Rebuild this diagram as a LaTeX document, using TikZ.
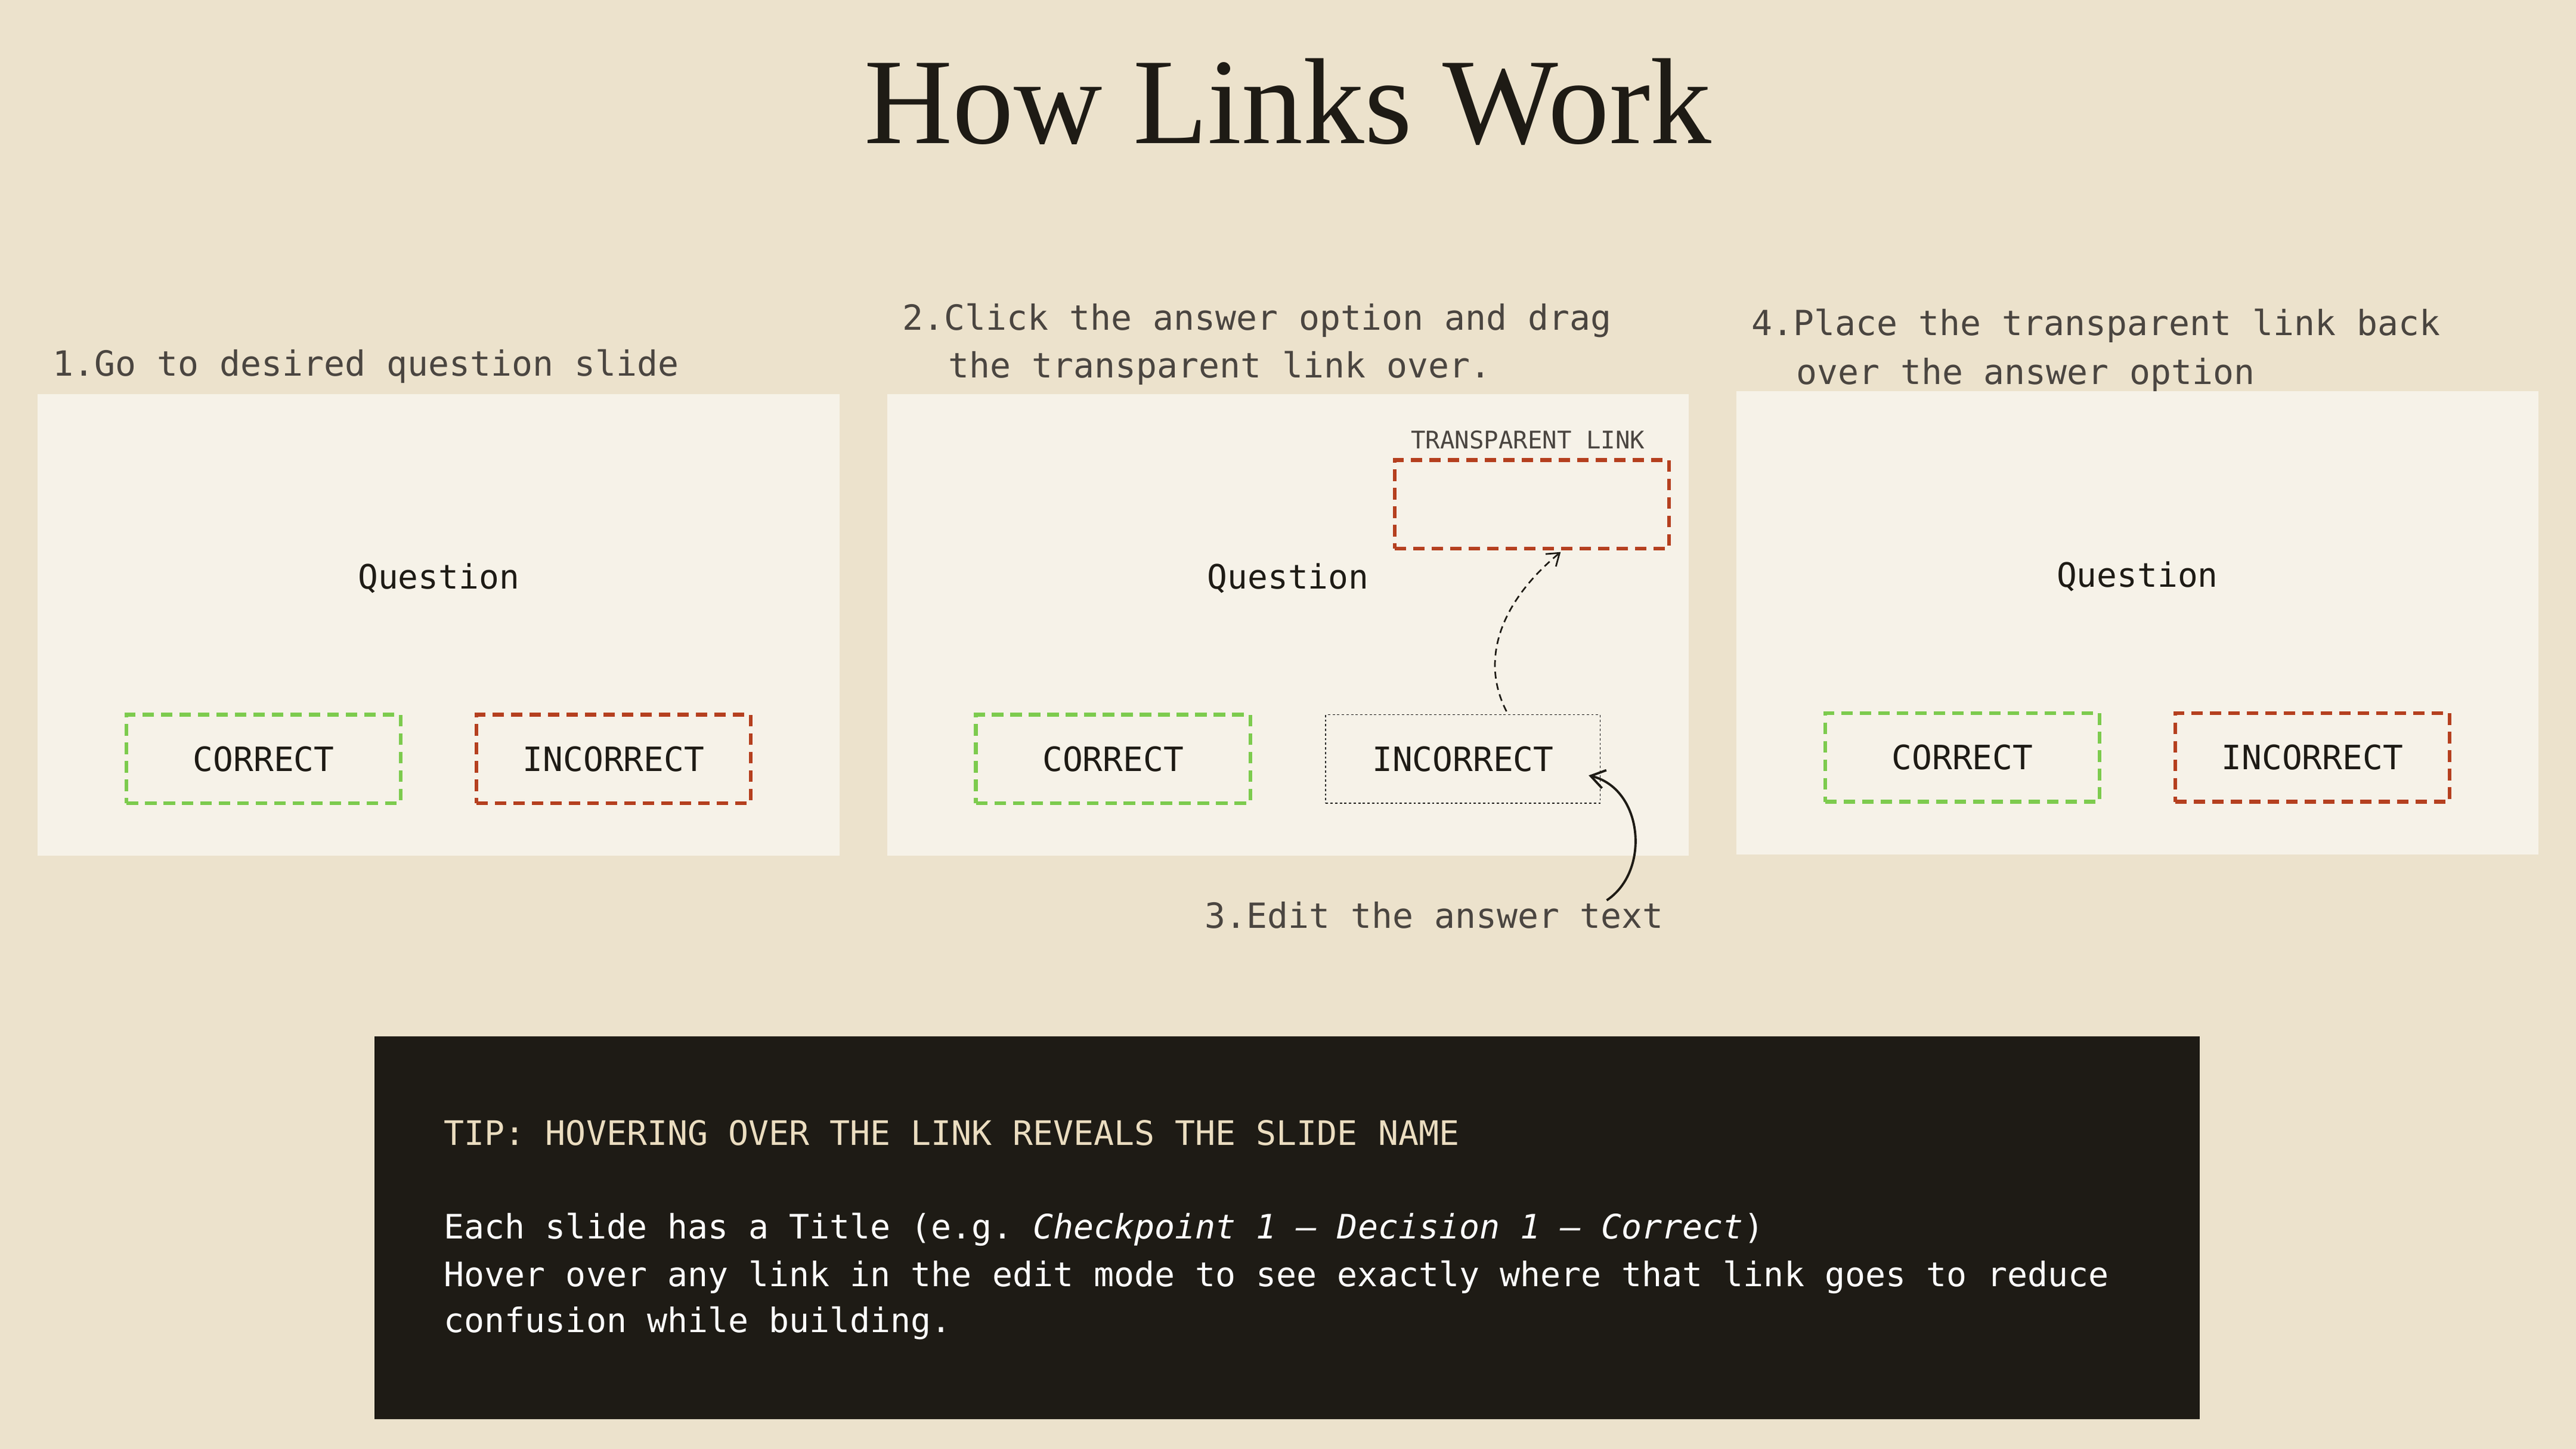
\documentclass[tikz,border=0pt]{standalone}
\usepackage{fontspec}
\setmainfont{Liberation Serif}
\setmonofont{DejaVu Sans Mono}
\usetikzlibrary{arrows.meta}
\definecolor{bg}{HTML}{ECE2CC}
\definecolor{panel}{HTML}{F6F2E8}
\definecolor{ink}{HTML}{1E1B15}
\definecolor{stepc}{HTML}{4A4540}
\definecolor{okc}{HTML}{7DCB4E}
\definecolor{badc}{HTML}{B5401F}
\definecolor{tipc}{HTML}{EBDDC0}
\tikzset{
  slide/.style={fill=panel,draw=none},
  steptext/.style={anchor=base west,text=stepc,font=\ttfamily\fontsize{15pt}{21pt}\selectfont,inner sep=0pt,align=left},
  qtext/.style={text=ink,font=\ttfamily\fontsize{14.5pt}{18pt}\selectfont},
  okbox/.style={draw=okc,line width=1.6pt,dash pattern=on 5pt off 3pt,minimum width=167*0.025cm,minimum height=54*0.025cm,text=ink,font=\ttfamily\fontsize{14.5pt}{18pt}\selectfont},
  badbox/.style={okbox,draw=badc},
  dotbox/.style={okbox,draw=ink,line width=0.5pt,dash pattern=on 1pt off 1pt},
  tipline/.style={anchor=base west,inner sep=0pt,font=\ttfamily\fontsize{14.6pt}{20pt}\selectfont}
}
\begin{document}
\begin{tikzpicture}[x=0.025cm,y=-0.025cm]
\fill[bg] (0,0) rectangle (1568,882);
\useasboundingbox (0,0) rectangle (1568,882);
\node[text=ink,font=\fontsize{53pt}{60pt}\selectfont] (title) at (784,62) {How Links Work};
% panels
\fill[slide] (23,240) rectangle (511,521);
\fill[slide] (540,240) rectangle (1028,521);
\fill[slide] (1057,238) rectangle (1545,520);
% step texts
\node[steptext] (s1) at (32,229) {1.Go to desired question slide};
\node[steptext] (s2a) at (549,201) {2.Click the answer option and drag};
\node[steptext] (s2b) at (577,230) {the transparent link over.};
\node[steptext] (s4a) at (1066,204) {4.Place the transparent link back};
\node[steptext] (s4b) at (1093,234) {over the answer option};
\node[steptext] (s3) at (733,565) {3.Edit the answer text};
% panel 1
\node[qtext] (q1) at (267,352) {Question};
\node[okbox] (c1) at (160.5,462) {CORRECT};
\node[badbox] (i1) at (373.5,462) {INCORRECT};
% panel 2
\node[qtext] (q2) at (784,352) {Question};
\node[okbox] (c2) at (677.5,462) {CORRECT};
\node[dotbox] (i2) at (890.5,462) {INCORRECT};
\node[badbox] (tl) at (932.5,307) {};
\node[anchor=base,text=stepc,font=\ttfamily\fontsize{10.5pt}{12pt}\selectfont,inner sep=0pt] (tll) at (930,273) {TRANSPARENT LINK};
\coordinate (a1s) at (917,433);
\coordinate (a1e) at (950,336);
\draw[ink,line width=0.7pt,dash pattern=on 3pt off 2pt,-{Straight Barb[length=5pt,width=7pt]}] (a1s) .. controls (900,400) and (915,365) .. (a1e);
\coordinate (a2s) at (978,548);
\coordinate (a2e) at (967,472);
\draw[ink,line width=1pt,-{Straight Barb[length=6pt,width=8pt]}] (a2s) .. controls (1005,530) and (1000,480) .. (a2e);
% panel 3
\node[qtext] (q3) at (1301,351) {Question};
\node[okbox] (c3) at (1194.5,461) {CORRECT};
\node[badbox] (i3) at (1407.5,461) {INCORRECT};
% tip
\fill[ink] (228,631) rectangle (1339,864);
\node[tipline,text=tipc] (t0) at (270,697) {TIP: HOVERING OVER THE LINK REVEALS THE SLIDE NAME};
\node[tipline,text=white] (t1) at (270,754) {Each slide has a Title (e.g. \textit{Checkpoint 1 — Decision 1 — Correct})};
\node[tipline,text=white] (t2) at (270,783) {Hover over any link in the edit mode to see exactly where that link goes to reduce};
\node[tipline,text=white] (t3) at (270,811) {confusion while building.};
\end{tikzpicture}
\end{document}
